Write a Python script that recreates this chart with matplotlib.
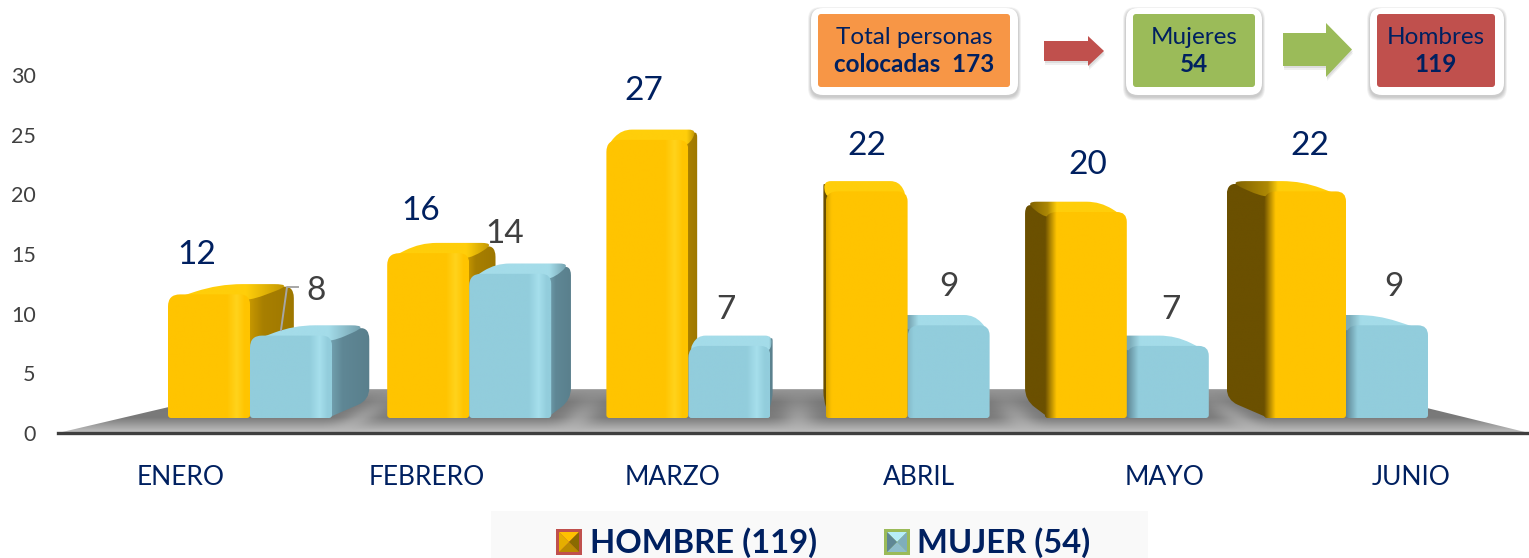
import numpy as np
import matplotlib
matplotlib.use("Agg")
import matplotlib.pyplot as plt
from matplotlib.path import Path
from matplotlib.patches import Polygon, FancyBboxPatch, Rectangle
from matplotlib.colors import LinearSegmentedColormap, to_rgb

plt.rcParams['font.family'] = ['Lato', 'DejaVu Sans']

# --------------------------------------------------
# Data
# --------------------------------------------------
meses = ["ENERO", "FEBRERO", "MARZO", "ABRIL", "MAYO", "JUNIO"]
hombre = [12, 16, 27, 22, 20, 22]
mujer = [8, 14, 7, 9, 7, 9]
y_ticks = [0, 5, 10, 15, 20, 25, 30]

W, H = 1529, 558
NAVY = "#002060"
GREY = "#404040"

# label offsets (pixels from the top centre of each bar)
hombre_dx = [-12, -8, -4, 0, 2, 5]
hombre_dy = [39, 42, 49, 45, 47, 45]
mujer_dx = [25, -6, -3, 0, 3, 7]
mujer_dy = [45, 40, 36, 38, 36, 38]

fig = plt.figure(figsize=(W / 100, H / 100), dpi=100)

# --------------------------------------------------
# Axes: bars (front plane), value axis, pixel overlay
# --------------------------------------------------
SX = 219.2  # px per category in the bar plane
SY = 10.3   # px per unit in the bar plane
ax_b = fig.add_axes([0, 0, 1, 1], zorder=1)
ax_b.set_xlim(-250 / SX, (W - 250) / SX)
ax_b.set_ylim(-(H - 418) / SY, 418 / SY)
ax_b.axis("off")

ax = fig.add_axes([58 / W, (H - 433) / H, 1476 / W, 358 / H], zorder=2)
ax.patch.set_alpha(0)
ax.set_xlim(-0.5, 5.5)
ax.set_ylim(0, 30)
ax.set_yticks(y_ticks)
ax.set_xticks(range(len(meses)))
ax.set_xticklabels(meses, fontsize=19, color=NAVY)
ax.tick_params(axis="y", length=0, labelsize=15.5, labelcolor=GREY, pad=16)
ax.tick_params(axis="x", length=0, pad=23)
for s in ["top", "left", "right"]:
    ax.spines[s].set_visible(False)
ax.spines["bottom"].set_color("#3f3f3f")
ax.spines["bottom"].set_linewidth(2.4)

ov = fig.add_axes([0, 0, 1, 1], zorder=3)
ov.set_xlim(0, W)
ov.set_ylim(H, 0)
ov.axis("off")

# --------------------------------------------------
# Helpers
# --------------------------------------------------
VX = 2.5      # vanishing point, in categories
KX = 0.08     # depth towards the vanishing point
RISE_TOP = 1.0
RISE_BOT = 1.75
zo = [2]


def next_z():
    zo[0] += 1
    return zo[0]


def mix(c1, c2, t):
    a, b = np.array(to_rgb(c1)), np.array(to_rgb(c2))
    return tuple(a + (b - a) * t)


def round_poly(pts, radii):
    verts, codes = [], []
    n = len(pts)
    scale = np.array([SX, SY])
    for i in range(n):
        p = np.array(pts[i], float)
        a = np.array(pts[i - 1], float)
        b = np.array(pts[(i + 1) % n], float)
        da = (a - p) * scale
        db = (b - p) * scale
        la = np.hypot(*da) or 1
        lb = np.hypot(*db) or 1
        d = min(radii[i], 0.45 * la, 0.45 * lb)
        s = p + da / la * d / scale
        e = p + db / lb * d / scale
        verts += [tuple(s), tuple(p), tuple(e)]
        codes += [Path.MOVETO if i == 0 else Path.LINETO, Path.CURVE3, Path.CURVE3]
    verts.append(verts[0])
    codes.append(Path.CLOSEPOLY)
    return Path(verts, codes)


def grad_fill(axes, path, stops, horizontal=True):
    cmap = LinearSegmentedColormap.from_list("g", stops)
    box = path.get_extents()
    g = np.linspace(0, 1, 256)
    arr = g.reshape(1, -1) if horizontal else g.reshape(-1, 1)
    im = axes.imshow(arr, extent=[box.x0, box.x1, box.y0, box.y1], origin="lower",
                     cmap=cmap, vmin=0, vmax=1, aspect="auto", zorder=next_z(),
                     interpolation="bilinear")
    im.set_clip_path(path, axes.transData)
    return im


def draw_3d(rect, base, band, top_c, side_r, side_l):
    x0 = rect.get_x()
    x1 = x0 + rect.get_width()
    v = rect.get_height()
    rx0 = x0 + (VX - x0) * KX
    rx1 = x1 + (VX - x1) * KX
    right_side = (x0 + x1) / 2 < VX
    inset = 0.02

    # side wall
    if right_side:
        side = [(x1 - inset, 0), (rx1, RISE_BOT), (rx1, v + RISE_TOP), (x1 - inset, v)]
        stops = [(0, mix(base, side_r, 0.55)), (0.35, side_r), (1, mix(side_r, "black", 0.06))]
        grad_fill(ax_b, round_poly(side, [3, 12, 14, 0]), stops)
    else:
        side = [(x0 + inset, 0), (x0 + inset, v), (rx0, v + RISE_TOP), (rx0, RISE_BOT)]
        stops = [(0, side_l), (1, side_l)]
        grad_fill(ax_b, round_poly(side, [3, 0, 14, 12]), stops)

    # top wall, darkening over the side wall
    top = [(x0, v - 0.6), (x1, v - 0.6), (rx1, v + RISE_TOP), (rx0, v + RISE_TOP)]
    xmin, xmax = min(x0, rx0), max(x1, rx1)
    span = xmax - xmin
    if right_side:
        f = (x1 - xmin) / span
        t_stops = [(0, top_c), (min(f, 0.97), top_c), (1, mix(top_c, side_r, 0.7))]
    else:
        f = (x0 - xmin) / span
        if f > 0.08:
            t_stops = [(0, mix(side_l, top_c, 0.15)), (f, mix(side_l, top_c, 0.45)),
                       (min(f + 0.1, 0.99), top_c), (1, top_c)]
        else:
            t_stops = [(0, top_c), (1, top_c)]
    grad_fill(ax_b, round_poly(top, [14, 14, 20, 26]), t_stops)

    # front face, a soft dark edge blends in where the side wall is deep
    depth = abs(rx0 - x0) * SX
    if not right_side and depth > 10:
        f_stops = [(0, side_l), (0.14, base), (1, base)]
    elif not right_side:
        f_stops = [(0, mix(base, side_l, 0.25)), (0.07, base), (1, base)]
    else:
        f_stops = [(0, base), (0.72, base), (0.84, band), (0.94, base), (1, base)]
    front = [(x0, 0), (x1, 0), (x1, v), (x0, v)]
    grad_fill(ax_b, round_poly(front, [3, 3, 10, 12]), f_stops)
    rect.set_visible(False)


# --------------------------------------------------
# Floor
# --------------------------------------------------
floor_back = 2.8
floor_front = -15 / SY
floor = [(-192 / SX, floor_front), (1279 / SX, floor_front),
         (1100 / SX, floor_back), (-5 / SX, floor_back)]
floor_path = Path(floor + [floor[0]])
grad_fill(ax_b, floor_path,
          [(0, "#c4c4c4"), (0.35, "#7a7a7a"), (0.7, "#777777"), (1, "#989898")],
          horizontal=False)

# soft lighter streaks on the floor between the groups
gx, gy = np.meshgrid(np.linspace(-1, 6, 1400), np.linspace(floor_front, floor_back, 60))
streak = np.zeros_like(gx)
for gap in np.arange(len(meses) - 1) + 0.5:
    centre = gap + (VX - gap) * KX * gy / floor_back
    streak += np.exp(-(((gx - centre) * SX / 17) ** 2))
streak *= np.clip((floor_back - gy) / floor_back, 0, 1) * 0.6
rgba = np.ones(gx.shape + (4,)) * np.array([0.72, 0.72, 0.72, 1.0])
rgba[..., 3] = streak
im = ax_b.imshow(rgba, extent=[-1, 6, floor_front, floor_back], origin="lower",
                 aspect="auto", zorder=next_z(), interpolation="bilinear")
im.set_clip_path(floor_path, ax_b.transData)

# --------------------------------------------------
# Bars
# --------------------------------------------------
x = np.arange(len(meses))
bw = 82 / SX
bars_h = ax_b.bar(x - bw / 2, hombre, bw, color="#FFC000")
bars_m = ax_b.bar(x + bw / 2, mujer, bw, color="#92CDDC")

gold = ("#FFC400", "#FFD31C", "#FFCE0A", "#A87F00", "#6B5000")
blue = ("#92CDDC", "#A6DFEC", "#A4DCE9", "#5F8795", "#5F8795")
for i in x:
    if i < VX:
        draw_3d(bars_h[i], *gold)
        draw_3d(bars_m[i], *blue)
    else:
        draw_3d(bars_m[i], *blue)
        draw_3d(bars_h[i], *gold)

# data labels
for i in x:
    ax_b.annotate(str(hombre[i]), (x[i] - bw / 2, hombre[i]),
                  xytext=(hombre_dx[i], hombre_dy[i]), textcoords="offset pixels",
                  ha="center", va="center", fontsize=24, color=NAVY, zorder=500)
    ax_b.annotate(str(mujer[i]), (x[i] + bw / 2, mujer[i]),
                  xytext=(mujer_dx[i], mujer_dy[i]), textcoords="offset pixels",
                  ha="center", va="center", fontsize=24, color=GREY, zorder=500)

# leader line of the first MUJER label
ov.plot([298, 287, 281], [287, 287, 330], color="#A6A6A6", lw=1.4)


# --------------------------------------------------
# Boxes and arrows on top
# --------------------------------------------------
def info_box(fx0, fy0, fx1, fy1, ix0, iy0, ix1, iy1, color, line1, line2):
    for k in range(1, 7):
        ov.add_patch(FancyBboxPatch((fx0 - k * 0.5, fy0 + 2 - k * 0.5), fx1 - fx0 + k, fy1 - fy0 + k * 1.1,
                                    boxstyle="round,pad=0,rounding_size=12",
                                    fc="black", ec="none", alpha=0.035))
    ov.add_patch(FancyBboxPatch((fx0, fy0), fx1 - fx0, fy1 - fy0,
                                boxstyle="round,pad=0,rounding_size=12", fc="white", ec="none"))
    ov.add_patch(FancyBboxPatch((ix0, iy0), ix1 - ix0, iy1 - iy0,
                                boxstyle="round,pad=0,rounding_size=3", fc=color, ec="none"))
    cx = (ix0 + ix1) / 2
    ov.text(cx, 37, line1, ha="center", va="center", fontsize=17.5, color=NAVY)
    ov.text(cx, 65, line2, ha="center", va="center", fontsize=17.5, color=NAVY, fontweight="bold")


info_box(811, 8, 1018, 95, 818, 14, 1010, 87, "#F79646", "Total personas", "colocadas  173")
info_box(1126, 8, 1262, 95, 1133, 14, 1255, 87, "#9BBB59", "Mujeres", "54")
info_box(1370, 8, 1504, 95, 1377, 14, 1495, 87, "#C0504D", "Hombres", "119")


def arrow(x0, xh, xt, y0, y1, h0, h1, color):
    pts = [(x0, y0), (xh, y0), (xh, h0), (xt, (y0 + y1) / 2), (xh, h1), (xh, y1), (x0, y1)]
    for k, a in zip([2, 4], [0.08, 0.06]):
        ov.add_patch(Polygon([(p + 1, q + k) for p, q in pts], fc="black", ec="none", alpha=a))
    ov.add_patch(Polygon(pts, fc=color, ec="none"))


arrow(1044, 1088, 1104, 41, 61, 36, 66, "#C0504D")
arrow(1283, 1326, 1352, 33, 66, 23, 77, "#9BBB59")

# --------------------------------------------------
# Legend
# --------------------------------------------------
ov.add_patch(Rectangle((491, 511), 657, 47, fc="#F9F9F9", ec="none"))


def pyramid(px, py, s, border, c_top, c_right, c_bot, c_left):
    ov.add_patch(Rectangle((px, py), s, s, fc=border, ec="none"))
    m = 3
    a, b = px + m, px + s - m
    c, d = py + m, py + s - m
    mx, my = px + s / 2, py + s / 2
    ov.add_patch(Polygon([(a, c), (b, c), (mx, my)], fc=c_top, ec="none"))
    ov.add_patch(Polygon([(b, c), (b, d), (mx, my)], fc=c_right, ec="none"))
    ov.add_patch(Polygon([(a, d), (b, d), (mx, my)], fc=c_bot, ec="none"))
    ov.add_patch(Polygon([(a, c), (a, d), (mx, my)], fc=c_left, ec="none"))


pyramid(556, 529, 26, "#C0504D", "#FFC000", "#8A6A00", "#B98A00", "#E5AE00")
pyramid(884, 529, 26, "#9BBB59", "#B7EEF8", "#7FAEBB", "#8FBDCB", "#5F8795")
ov.text(590, 543, "HOMBRE (119)", ha="left", va="center", fontsize=23.6, color=NAVY, fontweight="bold")
ov.text(917, 543, "MUJER (54)", ha="left", va="center", fontsize=23.6, color=NAVY, fontweight="bold")

fig.savefig("out.png", dpi=100)
